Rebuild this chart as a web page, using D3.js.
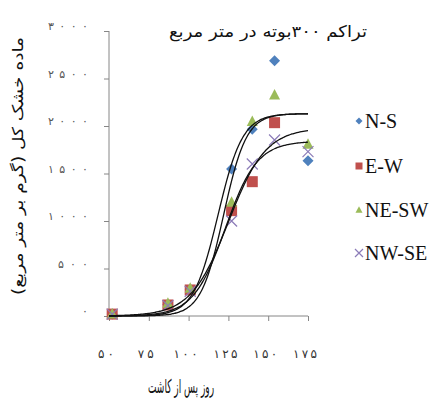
<!DOCTYPE html>
<html><head><meta charset="utf-8">
<script src="https://cdn.jsdelivr.net/npm/d3@7"></script>
<style>
body{margin:0;background:#fff;}
.leg{font-family:"Liberation Serif","DejaVu Serif","Times New Roman",serif;}
</style></head>
<body><svg id="c" width="445" height="401"></svg>
<script>
const days = [52, 87, 101, 127, 140, 154, 175];
const seriesNames = ["N-S", "E-W", "NE-SW", "NW-SE"];
const valNS   = [20, 120, 280, 1547, 1965, 2688, 1635];
const valEW   = [20, 116, 274, 1109, 1414, 2035, null];
const valNESW = [20, 133, 291, 1196, 2046, 2326, 1807];
const valNWSE = [20, 110, 260, 1000, 1600, 1853, 1730];
// logistic trend-line parameters (asymptote, rate, midpoint) per curve
const trendAsym = [2130, 2130, 1980, 1840];
const trendRate = [0.13, 0.14, 0.085, 0.10];
const trendMid  = [118.5, 122, 125, 123];
const xTicks = [50, 75, 100, 125, 150, 175];
const xTickLabels = ["۵۰", "۷۵", "۱۰۰", "۱۲۵", "۱۵۰", "۱۷۵"];
const yTicks = [0, 500, 1000, 1500, 2000, 2500, 3000];
const yTickLabels = ["۰", "۵۰۰", "۱۰۰۰", "۱۵۰۰", "۲۰۰۰", "۲۵۰۰", "۳۰۰۰"];
const titleText = "تراکم ۳۰۰بوته در متر مربع";
const xTitle = "روز پس از کاشت";
const yTitle = "ماده خشک کل (گرم بر متر مربع)";

const colors = ["#4F81BD", "#C0504D", "#9BBB59", "#8C7CB8"];
const allVals = [valNS, valEW, valNESW, valNWSE];
const arFont = "DejaVu Sans";

const svg = d3.select("#c");
const x = d3.scaleLinear().domain([50, 175]).range([109, 308]);
const y = d3.scaleLinear().domain([0, 3000]).range([316, 31]);

// axes
const xAxis = d3.axisBottom(x).tickValues(xTicks).tickSize(5).tickFormat(()=>"");
const gx = svg.append("g").attr("transform","translate(0,316)").call(xAxis);
gx.select(".domain").attr("stroke","#868686").attr("d","M109,0H308");
gx.selectAll(".tick line").attr("stroke","#868686");
const yAxis = d3.axisLeft(y).tickValues(yTicks).tickSize(5).tickFormat(()=> "");
const gy = svg.append("g").attr("transform","translate(109,0)").call(yAxis);
gy.select(".domain").attr("stroke","#868686").attr("d","M0,316V31");
gy.selectAll(".tick line").attr("stroke","#868686");

// tick labels
svg.append("g").selectAll("text").data(xTicks).join("text")
  .attr("x", d=>x(d)-3).attr("y", 358).attr("text-anchor","middle")
  .attr("font-family", arFont).attr("font-size", 12).attr("fill","#333")
  .attr("textLength", (d,i)=>xTickLabels[i].length*8).attr("lengthAdjust","spacing")
  .text((d,i)=>xTickLabels[i]);
svg.append("g").selectAll("text").data(yTicks).join("text")
  .attr("x", 88).attr("y", d=>y(d)-1).attr("text-anchor","end")
  .attr("font-family", arFont).attr("font-size", 11).attr("fill","#555")
  .attr("textLength", (d,i)=>yTickLabels[i].length*10).attr("lengthAdjust","spacing")
  .text((d,i)=>yTickLabels[i]);

// titles
svg.append("text").attr("x", 268).attr("y", 37).attr("text-anchor","middle")
  .attr("font-family", arFont).attr("font-size", 16).attr("fill","#111")
  .attr("textLength", 198).attr("lengthAdjust","spacingAndGlyphs").text(titleText);
svg.append("text").attr("x", 181).attr("y", 393).attr("text-anchor","middle")
  .attr("font-family", arFont).attr("font-size", 19).attr("fill","#111")
  .attr("textLength", 66).attr("lengthAdjust","spacingAndGlyphs").text(xTitle);
svg.append("text").attr("transform","translate(23,166) rotate(-90)").attr("text-anchor","middle")
  .attr("font-family", arFont).attr("font-size", 15).attr("fill","#111")
  .attr("textLength", 258).attr("lengthAdjust","spacingAndGlyphs").text(yTitle);

// markers
function marker(g, i, cx, cy, s){
  if(i===0){
    g.append("path").attr("d", `M${cx},${cy-s}L${cx+s},${cy}L${cx},${cy+s}L${cx-s},${cy}Z`).attr("fill",colors[0]);
  } else if(i===1){
    g.append("rect").attr("x",cx-s).attr("y",cy-s).attr("width",2*s).attr("height",2*s).attr("fill",colors[1]);
  } else if(i===2){
    g.append("path").attr("d", `M${cx},${cy-s*1.1}L${cx+s},${cy+s*0.8}L${cx-s},${cy+s*0.8}Z`).attr("fill",colors[2]);
  } else {
    g.append("path").attr("d", `M${cx-s},${cy-s}L${cx+s},${cy+s}M${cx+s},${cy-s}L${cx-s},${cy+s}`)
      .attr("stroke",colors[3]).attr("stroke-width",1.2).attr("fill","none");
  }
}
const gm = svg.append("g");
allVals.forEach((vals,i)=>{
  vals.forEach((v,j)=>{ if(v!==null) marker(gm, i, x(days[j]), y(v), 5.5); });
});

// trend lines
const line = d3.line().x(d=>x(d[0])).y(d=>y(d[1])).curve(d3.curveBasis);
const grid = d3.range(50, 175.5, 1);
trendAsym.forEach((A,i)=>{
  const pts = grid.map(t=>[t, A/(1+Math.exp(-trendRate[i]*(t-trendMid[i])))]);
  svg.append("path").attr("d", line(pts)).attr("fill","none").attr("stroke","#111").attr("stroke-width",1.3);
});

// legend
const lg = svg.append("g");
const legY = [121, 166, 210, 253];
seriesNames.forEach((n,i)=>{
  marker(lg, i, 359, legY[i], i===3?4:3.5);
  lg.append("text").attr("class","leg").attr("x", 365).attr("y", legY[i]+7)
    .attr("font-size", 20).attr("fill","#111").text(n);
});
</script></body></html>
